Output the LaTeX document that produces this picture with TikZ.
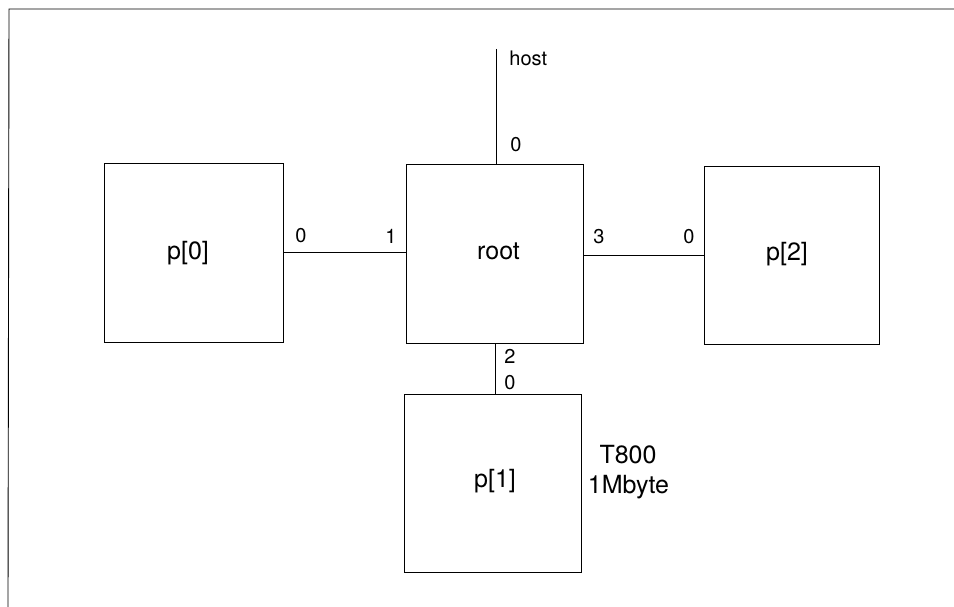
\documentclass[tikz,border=0pt]{standalone}
\usepackage{fontspec}
\setmainfont{TeX Gyre Heros}
\begin{document}
\begin{tikzpicture}[x=1pt,y=-1pt,
  line width=0.9pt,
  procbox/.style={draw, rectangle, inner sep=0pt, outer sep=0pt, font=\fontsize{25}{30}\selectfont},
  biglbl/.style={inner sep=0pt, font=\fontsize{25}{30}\selectfont},
  smalllbl/.style={inner sep=0pt, font=\fontsize{20}{24}\selectfont}]
\useasboundingbox (0,0) rectangle (954,607);
% frame (top and left edges visible)
\coordinate (frameTR) at (954,9);
\coordinate (frameTL) at (9,9);
\coordinate (frameBL) at (8,607);
\draw (frameTR) -- (frameTL) -- (frameBL);
% boxes
\node[procbox, minimum width=179pt, minimum height=179pt] (p0) at (193.5,252.5) {};
\node[procbox, minimum width=177pt, minimum height=179pt] (root) at (494.5,253.5) {};
\node[procbox, minimum width=175pt, minimum height=178pt] (p2) at (791.5,255) {};
\node[procbox, minimum width=177pt, minimum height=178pt] (p1) at (492.5,483) {};
% box texts
\node[biglbl] (t0) at (188,253) {p[0]};
\node[biglbl, anchor=base] (troot) at (498.5,259) {root};
\node[biglbl] (t2) at (787,254) {p[2]};
\node[biglbl] (t1) at (495,481.5) {p[1]};
% connectors
\coordinate (hosttop) at (496,49);
\draw (hosttop) -- (hosttop |- root.north);
\draw (p0.east) -- (p0.east -| root.west);
\draw (root.east |- p2.west) -- (p2.west);
\coordinate (downlink) at (495,343);
\draw (downlink |- root.south) -- (downlink |- p1.north);
% link labels
\node[smalllbl, anchor=base west] (host) at (509,66) {host};
\node[smalllbl] (l0top) at (516,145) {0};
\node[smalllbl] (l0p0) at (301,236) {0};
\node[smalllbl] (l1root) at (391,236) {1};
\node[smalllbl] (l3root) at (599,237) {3};
\node[smalllbl] (l0p2) at (689,237) {0};
\node[smalllbl] (l2root) at (510,356) {2};
\node[smalllbl] (l0p1) at (510,383) {0};
% annotation
\node[biglbl, anchor=base] (t800) at (628,463) {T800};
\node[biglbl, anchor=base] (mbyte) at (628.5,493) {1Mbyte};
\end{tikzpicture}
\end{document}
